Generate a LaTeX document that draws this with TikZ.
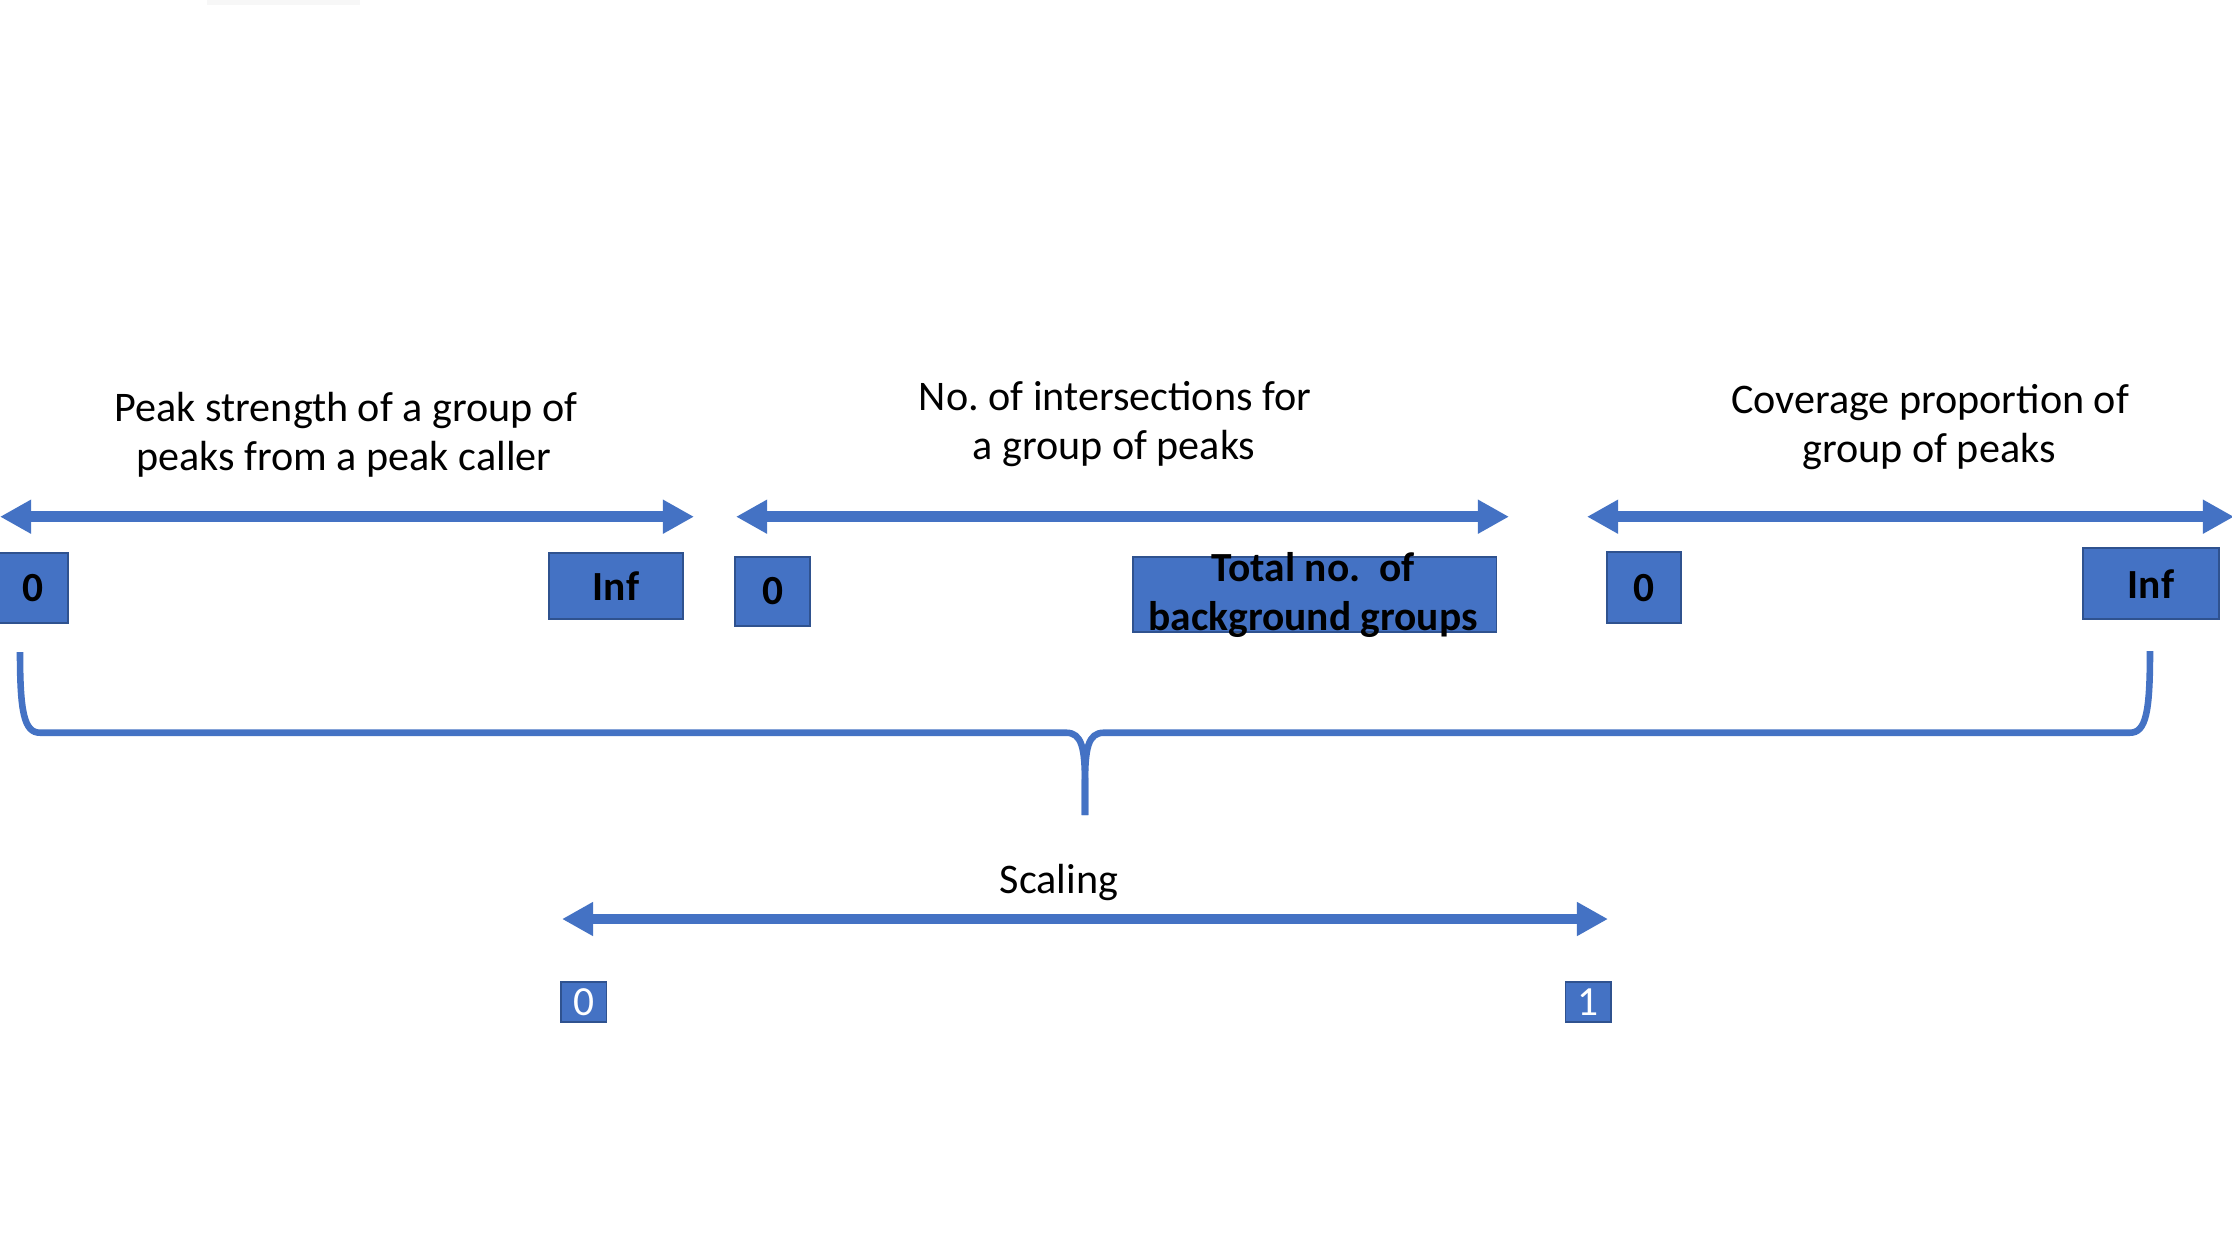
\documentclass[tikz,border=0pt]{standalone}
\usepackage{fontspec}
\setmainfont{Carlito}
\frenchspacing
\usetikzlibrary{arrows.meta}
\definecolor{accent}{HTML}{4472C4}
\definecolor{accentdark}{HTML}{2F528F}
\tikzset{
  axis/.style={draw=accent, line width=3.7pt,
    {Triangle[length=10.9pt,width=11.2pt]}-{Triangle[length=10.9pt,width=11.2pt]}},
  bracketline/.style={draw=accent, line width=2.3pt},
  valbox/.style={draw=accentdark, fill=accent, line width=0.6pt, inner sep=0pt,
    font=\fontsize{14.5pt}{17.15pt}\selectfont\bfseries, text=black},
  smallbox/.style={draw=accentdark, fill=accent, line width=0.6pt, inner sep=0pt,
    font=\fontsize{14.5pt}{17.15pt}\selectfont, text=white,
    minimum width=15.96pt, minimum height=13.8pt},
  label/.style={anchor=base, inner sep=0pt, font=\fontsize{14.75pt}{17.15pt}\selectfont, text=black},
  boldlabel/.style={anchor=base, inner sep=0pt, font=\fontsize{14.5pt}{17.15pt}\selectfont\bfseries, text=black}
}
\begin{document}
\begin{tikzpicture}[x=0.35pt, y=-0.35pt]
\useasboundingbox (0,0) rectangle (2232,1256);
\fill[white] (0,0) rectangle (2232,1256);
% faint smudge at top
\fill[black!3] (207,0) rectangle (360,5);

% titles
\node[label] (t1a) at (346,421.7) {Peak strength of a group of};
\node[label] (t1b) at (344,470.5) {peaks from a peak caller};
\node[label] (t2a) at (1115,410) {No. of intersections for};
\node[label] (t2b) at (1114,459) {a group of peaks};
\node[label] (t3a) at (1930,413.3) {Coverage proportion of};
\node[label] (t3b) at (1929,462) {group of peaks};
\node[label] (t4) at (1059,893.3) {Scaling};

% axes
\coordinate (a1l) at (0,516.7);
\coordinate (a1r) at (694,516.7);
\coordinate (a2l) at (736,516.7);
\coordinate (a2r) at (1509,516.7);
\coordinate (a3l) at (1587,516.7);
\coordinate (a3r) at (2234,516.7);
\coordinate (a4l) at (562,919);
\coordinate (a4r) at (1608,919);
\draw[axis] (a1l) -- (a1r);
\draw[axis] (a2l) -- (a2r);
\draw[axis] (a3l) -- (a3r);
\draw[axis] (a4l) -- (a4r);

% value boxes
\node[valbox, minimum width=24.85pt, minimum height=24.7pt] (b1) at (32.5,588) {0};
\node[valbox, minimum width=46.9pt, minimum height=23.3pt] (b2) at (616,586) {Inf};
\node[valbox, minimum width=26.25pt, minimum height=24.15pt] (b3) at (772.8,591.2) {0};
\node[valbox, minimum width=127.2pt, minimum height=26.25pt] (b4) at (1314.8,594.2) {};
\node[boldlabel] (b4a) at (1313,581.7) {Total no.\ \ of};
\node[boldlabel] (b4b) at (1313,630.7) {background groups};
\node[valbox, minimum width=25.9pt, minimum height=24.85pt] (b5) at (1644,587.8) {0};
\node[valbox, minimum width=47.6pt, minimum height=24.85pt] (b6) at (2151,583.8) {Inf};
\node[smallbox] (b7) at (583.8,1002) {0};
\node[smallbox] (b8) at (1588.4,1002) {1};

% brace
\coordinate (bl) at (20,652);
\coordinate (br) at (2150,651);
\coordinate (tip) at (1085,815);
\draw[bracketline] (bl) .. controls (20,712) and (24,732.7) .. (40,732.7)
  -- (1066,732.7) .. controls (1082,732.7) and (1085,748) .. (1085,785) -- (tip);
\draw[bracketline] (tip) -- (1085,785) .. controls (1085,748) and (1088,732.7) .. (1104,732.7)
  -- (2130,732.7) .. controls (2146,732.7) and (2150,712) .. (br);
\end{tikzpicture}
\end{document}
